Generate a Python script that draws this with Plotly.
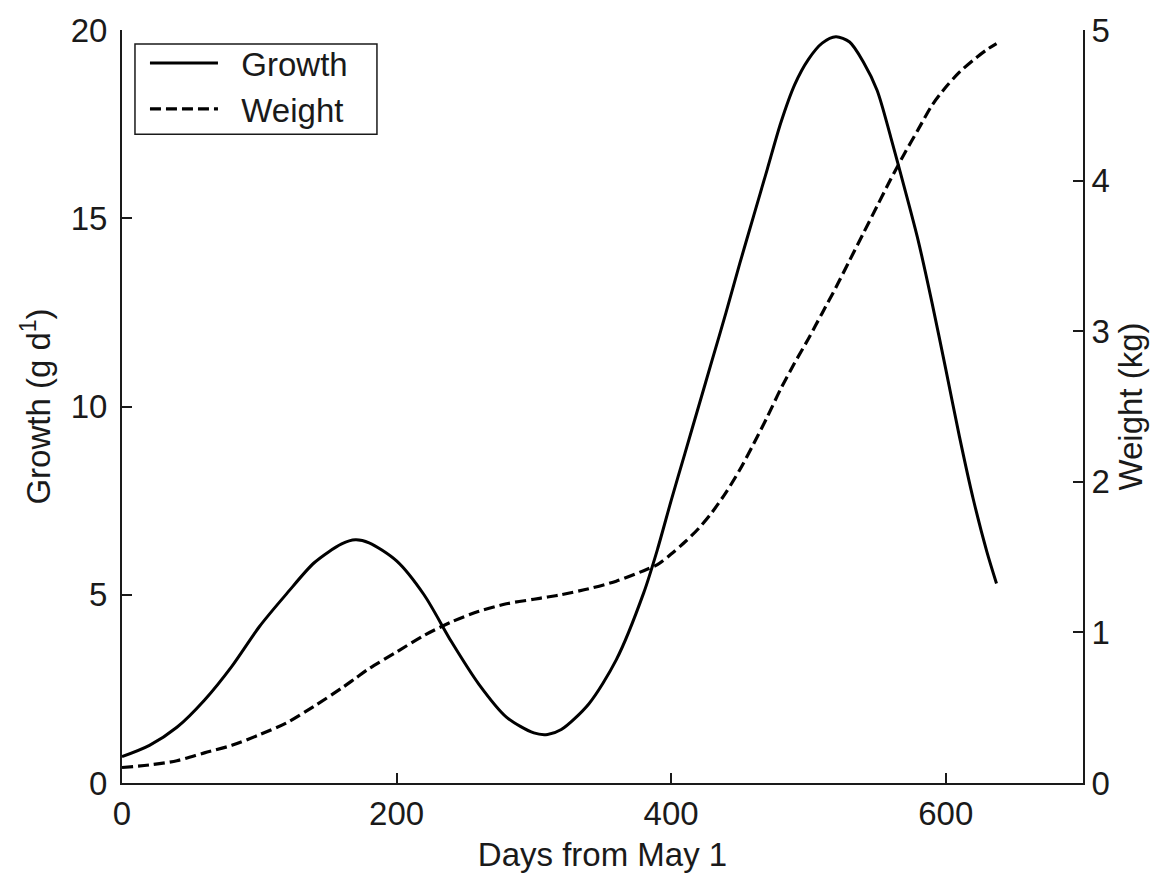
import plotly.graph_objects as go

days = [0, 20, 40, 60, 80, 100, 120, 140, 160, 170, 180, 200, 220, 240, 260, 280, 300,
        310, 320, 340, 360, 380, 390, 400, 410, 420, 430, 440, 450, 460, 470, 480, 490,
        500, 510, 520, 530, 540, 550, 560, 570, 580, 590, 600, 610, 620, 630, 637]

growth = [0.70, 1.00, 1.48, 2.20, 3.10, 4.15, 5.03, 5.85, 6.35, 6.46, 6.38, 5.90, 5.00,
          3.75, 2.62, 1.75, 1.33, 1.29, 1.42, 2.10, 3.27, 5.05, 6.20, 7.50, 8.75, 10.00,
          11.25, 12.50, 13.80, 15.05, 16.30, 17.55, 18.55, 19.22, 19.65, 19.82, 19.68,
          19.15, 18.40, 17.15, 15.80, 14.40, 12.76, 11.00, 9.20, 7.55, 6.14, 5.30]

weight = [0.103, 0.12, 0.148, 0.20, 0.25, 0.32, 0.40, 0.51, 0.63, 0.695, 0.76, 0.87, 0.98,
          1.07, 1.14, 1.19, 1.22, 1.235, 1.25, 1.29, 1.34, 1.41, 1.45, 1.52, 1.60, 1.69,
          1.80, 1.93, 2.08, 2.25, 2.43, 2.62, 2.79, 2.95, 3.12, 3.29, 3.47, 3.65, 3.83,
          4.01, 4.18, 4.34, 4.50, 4.62, 4.72, 4.80, 4.87, 4.91]

x_ticks = [0, 200, 400, 600]
y_ticks = [0, 5, 10, 15, 20]
y2_ticks = [0, 1, 2, 3, 4, 5]

FONT = "Liberation Sans, Arial, sans-serif"
INK = "#1a1a1a"
NB = "\u00a0"

fig = go.Figure()
fig.add_trace(go.Scatter(x=days, y=growth, name=NB * 2 + "Growth", mode="lines",
                         line=dict(color="black", width=3, shape="spline", smoothing=0.8),
                         yaxis="y"))
fig.add_trace(go.Scatter(x=days, y=weight, name=NB * 2 + "Weight", mode="lines",
                         line=dict(color="black", width=3.2, dash="11px,5px",
                                   shape="spline", smoothing=0.8),
                         yaxis="y2"))

axis_common = dict(showgrid=False, zeroline=False, showline=True, linewidth=2,
                   linecolor=INK, ticks="inside", ticklen=10, tickwidth=2,
                   tickcolor=INK, tickfont=dict(family=FONT, size=33, color=INK))

fig.update_layout(
    width=1167, height=879,
    margin=dict(l=122, r=84, t=26, b=95, pad=0),
    paper_bgcolor="white", plot_bgcolor="white",
    font=dict(family=FONT, size=33, color=INK),
    xaxis=dict(range=[0, 700], tickvals=x_ticks, ticklabelstandoff=0,
               title=dict(text="Days from May 1", font=dict(size=33), standoff=12),
               **axis_common),
    yaxis=dict(range=[0, 20], tickvals=y_ticks, ticklabelstandoff=6,
               title=dict(text="Growth (g d<sup>1</sup>)", font=dict(size=33), standoff=10),
               **axis_common),
    yaxis2=dict(range=[0, 5], tickvals=y2_ticks, overlaying="y", side="right",
                ticklabelstandoff=0,
                title=dict(text="Weight (kg)", font=dict(size=33), standoff=10),
                **axis_common),
    legend=dict(x=0.0239, y=0.9934, xanchor="left", yanchor="top",
                bgcolor="rgba(0,0,0,0)", borderwidth=0,
                font=dict(family=FONT, size=33, color=INK),
                itemwidth=68, tracegroupgap=0),
    shapes=[dict(type="rect", xref="paper", yref="paper",
                 x0=0.0135, x1=0.2653, y0=0.8615, y1=0.9815,
                 line=dict(color=INK, width=1.5), fillcolor="rgba(0,0,0,0)",
                 layer="above")],
    showlegend=True,
)

fig.write_html("out.html")
